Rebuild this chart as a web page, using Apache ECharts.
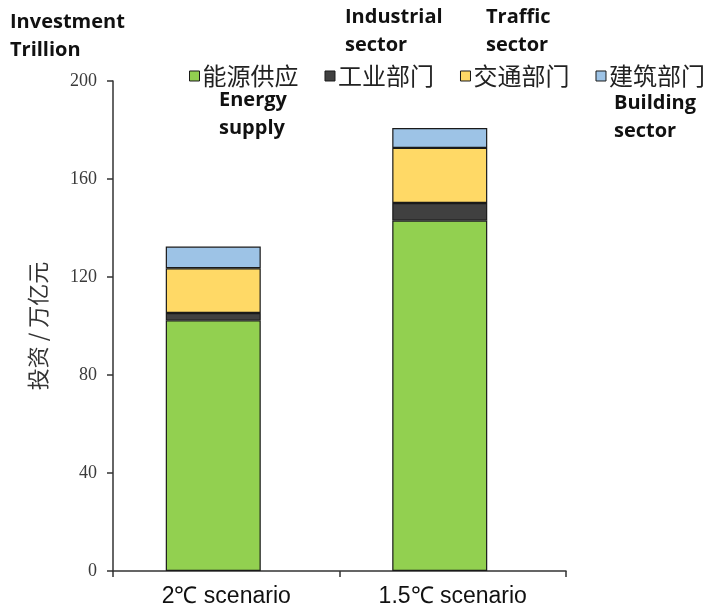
<!DOCTYPE html>
<html>
<head>
<meta charset="utf-8">
<style>html,body{margin:0;padding:0;background:#fff;}#main{width:722px;height:612px;}</style>
<script src="https://cdn.jsdelivr.net/npm/echarts@6/dist/echarts.min.js"></script>
</head>
<body>
<div id="main"></div>
<script>
var categories = ['2℃ scenario', '1.5℃ scenario'];
var seriesNames = ['能源供应', '工业部门', '交通部门', '建筑部门'];
var energySupply = [102.3, 143.0];
var industrial = [3.0, 7.2];
var traffic = [18.3, 22.5];
var building = [8.8, 8.1];
var yTicks = [0, 40, 80, 120, 160, 200];

var colors = ['#92d050', '#404040', '#ffd966', '#9dc3e6'];
var dataSets = [energySupply, industrial, traffic, building];

var chart = echarts.init(document.getElementById('main'));
var series = seriesNames.map(function (n, i) {
  return {
    name: n,
    type: 'bar',
    stack: 'total',
    barWidth: 95,
    barGap: '0%',
    data: dataSets[i],
    itemStyle: { color: colors[i], borderColor: '#1a1a1a', borderWidth: 1.2 }
  };
});
// invisible spacer so the stacked bar sits a little left of the category centre, as in the reference
series.push({
  name: 'spacer',
  type: 'bar',
  stack: 'spacer',
  barWidth: 26,
  barGap: '0%',
  data: categories.map(function () { return '-'; }),
  itemStyle: { color: 'rgba(0,0,0,0)', borderWidth: 0 },
  silent: true
});
var textStyleEn = { fontFamily: 'Open Sans', fontWeight: 'bold', fontSize: 20, fill: '#111', lineHeight: 28 };
chart.setOption({
  backgroundColor: '#fff',
  animation: false,
  legend: {
    data: seriesNames,
    top: 59,
    left: 184,
    icon: 'rect',
    itemWidth: 10,
    itemHeight: 10,
    itemGap: 26,
    itemStyle: { borderColor: '#1a1a1a', borderWidth: 1 },
    textStyle: { fontFamily: 'Noto Sans CJK SC', fontSize: 24, color: '#222', padding: [0, 0, 0, -2] }
  },
  grid: { left: 113, right: 156, top: 81, bottom: 41, containLabel: false },
  xAxis: {
    type: 'category',
    data: categories,
    axisLine: { lineStyle: { color: '#333', width: 1.5 } },
    axisTick: { show: true, length: 6, lineStyle: { color: '#333', width: 1.5 } },
    axisLabel: { fontFamily: 'Liberation Sans', fontSize: 23, color: '#111', margin: 14 }
  },
  yAxis: {
    type: 'value',
    min: yTicks[0],
    max: yTicks[yTicks.length - 1],
    interval: 40,
    name: '投资 / 万亿元',
    nameLocation: 'middle',
    nameGap: 64,
    nameTextStyle: { fontFamily: 'Noto Sans CJK SC', fontSize: 22, color: '#333' },
    axisLine: { show: true, lineStyle: { color: '#333', width: 1.5 } },
    axisTick: { show: true, length: 6, lineStyle: { color: '#333', width: 1.5 } },
    splitLine: { show: false },
    axisLabel: { fontFamily: 'Liberation Serif', fontSize: 18, color: '#3a3a3a', margin: 16 }
  },
  graphic: [
    { type: 'text', left: 10, top: 8, style: Object.assign({ text: 'Investment\nTrillion' }, textStyleEn) },
    { type: 'text', left: 345, top: 3, style: Object.assign({ text: 'Industrial\nsector' }, textStyleEn) },
    { type: 'text', left: 486, top: 3, style: Object.assign({ text: 'Traffic\nsector' }, textStyleEn) },
    { type: 'text', left: 219, top: 86, style: Object.assign({ text: 'Energy\nsupply' }, textStyleEn) },
    { type: 'text', left: 614, top: 89, style: Object.assign({ text: 'Building\nsector' }, textStyleEn) }
  ],
  series: series
});
</script>
</body>
</html>
